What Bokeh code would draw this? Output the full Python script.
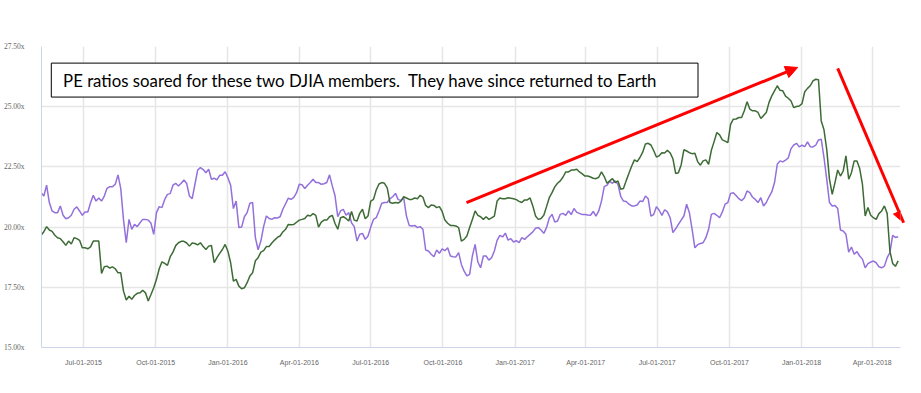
import pandas as pd
from bokeh.plotting import figure
from bokeh.models import (FixedTicker, DatetimeTickFormatter, PrintfTickFormatter,
                          BoxAnnotation, Label, Arrow, NormalHead, Range1d)
from bokeh.embed import file_html
from bokeh.resources import INLINE

# ---- data (samples every 3.5 days) ----
start_date = "2015-05-08"

purple_pe = [
    21.43, 21.29, 21.74, 21.02, 20.67, 20.60, 20.60, 20.88, 20.49, 20.35,
    20.39, 20.49, 20.74, 20.84, 20.67, 20.49, 20.63, 20.63, 21.01, 21.32,
    21.08, 21.21, 21.08, 21.29, 21.61, 21.68, 21.68, 21.78, 22.17, 21.60,
    20.30, 19.35, 20.32, 19.91, 20.11, 20.02, 20.18, 20.32, 20.32, 20.29,
    20.16, 19.70, 20.60, 20.85, 20.81, 21.15, 21.36, 21.39, 21.74, 21.82,
    21.71, 21.82, 21.96, 21.81, 21.29, 21.18, 21.78, 22.37, 22.47, 22.39,
    22.26, 22.40, 21.99, 22.03, 21.96, 22.15, 22.15, 22.30, 22.05, 21.74,
    20.77, 21.08, 19.98, 20.00, 20.43, 20.60, 20.99, 21.02, 19.56, 19.06,
    19.42, 20.02, 20.46, 20.36, 20.32, 20.39, 20.38, 20.43, 20.74, 20.97,
    21.20, 21.15, 21.23, 21.43, 21.78, 21.76, 21.60, 21.74, 21.85, 21.99,
    21.85, 21.85, 21.78, 21.80, 21.85, 22.17, 21.71, 21.30, 20.43, 20.67,
    20.74, 20.49, 20.60, 20.18, 20.02, 19.42, 19.70, 19.74, 19.49, 19.63,
    20.00, 20.32, 20.39, 20.67, 20.99, 21.02, 21.02, 21.18, 21.26, 21.40,
    21.14, 21.11, 21.21, 20.46, 20.07, 20.05, 20.07, 19.98, 20.02, 19.91,
    19.05, 19.01, 18.87, 18.77, 19.05, 18.91, 19.10, 19.02, 19.14, 18.80,
    18.77, 18.76, 18.94, 18.45, 18.17, 17.97, 18.04, 18.80, 19.28, 18.55,
    18.31, 18.80, 18.80, 18.63, 18.73, 19.01, 19.45, 19.66, 19.59, 19.75,
    19.46, 19.52, 19.38, 19.44, 19.35, 19.56, 19.49, 19.60, 19.70, 19.80,
    19.95, 19.98, 19.88, 19.74, 19.98, 20.38, 20.53, 20.21, 20.25, 20.53,
    20.57, 20.49, 20.67, 20.52, 20.77, 20.61, 20.57, 20.52, 20.52, 20.50,
    20.49, 20.65, 20.46, 20.67, 21.08, 21.68, 21.74, 21.90, 21.82, 21.92,
    21.78, 21.28, 21.08, 21.06, 20.95, 20.88, 20.88, 20.92, 21.08, 21.06,
    21.29, 21.18, 20.46, 20.52, 20.85, 20.70, 20.49, 20.72, 20.63, 20.39,
    19.77, 19.93, 20.11, 20.29, 20.46, 20.95, 20.60, 19.91, 19.14, 19.27,
    19.32, 19.35, 19.56, 19.91, 20.53, 20.57, 20.49, 20.39, 20.63, 20.95,
    21.02, 21.40, 21.43, 21.31, 21.18, 21.10, 21.21, 21.50, 21.43, 21.24,
    21.15, 21.02, 21.22, 20.88, 21.02, 21.26, 21.46, 21.85, 22.61, 22.75,
    22.71, 22.78, 22.87, 23.26, 23.41, 23.48, 23.33, 23.40, 23.34, 23.54,
    23.34, 23.33, 23.40, 23.62, 23.65, 22.89, 21.99, 21.02, 20.88, 20.90,
    20.77, 19.88, 19.84, 19.70, 18.96, 19.17, 18.87, 18.98, 18.80, 18.67,
    18.31, 18.48, 18.55, 18.59, 18.52, 18.35, 18.31, 18.38, 18.73, 18.94,
    19.66, 19.57, 19.60]

green_pe = [
    19.66, 19.81, 20.02, 19.88, 19.82, 19.66, 19.56, 19.52, 19.39, 19.24,
    19.42, 19.30, 19.56, 19.52, 19.45, 19.14, 19.14, 19.10, 19.18, 19.42,
    19.42, 19.42, 18.08, 18.35, 18.38, 18.30, 18.35, 18.27, 18.10, 18.10,
    17.34, 16.97, 17.13, 17.00, 17.16, 17.25, 17.27, 17.38, 17.27, 16.93,
    17.20, 17.48, 17.83, 18.27, 18.56, 18.49, 18.41, 18.77, 18.96, 19.23,
    19.35, 19.41, 19.41, 19.34, 19.21, 19.34, 19.32, 19.26, 19.35, 19.19,
    19.07, 19.21, 19.24, 18.52, 18.73, 18.91, 19.07, 19.28, 19.00, 18.52,
    17.76, 17.83, 17.55, 17.44, 17.48, 17.69, 17.97, 18.10, 18.60, 18.73,
    18.96, 19.02, 19.19, 19.19, 19.34, 19.46, 19.57, 19.63, 19.80, 19.91,
    20.11, 20.10, 20.11, 20.20, 20.29, 20.32, 20.36, 20.49, 20.46, 20.56,
    20.49, 20.00, 20.21, 20.29, 20.29, 20.43, 20.49, 20.15, 19.91, 20.39,
    20.43, 20.36, 20.25, 20.65, 20.29, 20.25, 20.57, 20.74, 20.35, 20.46,
    21.08, 21.15, 21.54, 21.79, 21.85, 21.82, 21.63, 21.02, 20.99, 21.02,
    21.00, 21.08, 21.26, 21.21, 21.15, 21.15, 21.21, 21.18, 21.32, 21.24,
    20.90, 20.81, 20.92, 20.90, 20.81, 20.85, 20.65, 20.29, 20.16, 20.07,
    20.07, 20.05, 19.98, 19.42, 19.49, 19.63, 19.98, 20.32, 20.67, 20.49,
    20.43, 20.32, 20.43, 20.32, 20.38, 20.46, 21.08, 21.21, 21.18, 21.18,
    21.22, 21.20, 21.18, 21.14, 21.07, 21.02, 21.13, 21.13, 21.21, 20.88,
    20.46, 20.32, 20.36, 20.49, 20.85, 21.22, 21.43, 21.67, 21.82, 21.92,
    22.08, 22.29, 22.29, 22.37, 22.37, 22.40, 22.29, 22.21, 22.12, 22.12,
    22.08, 22.03, 22.01, 22.07, 22.29, 22.10, 21.82, 21.92, 22.01, 21.85,
    21.92, 21.57, 21.60, 21.93, 22.24, 22.54, 22.79, 22.72, 22.89, 23.11,
    23.45, 23.48, 23.41, 23.18, 22.91, 22.96, 23.09, 23.08, 23.19, 23.08,
    22.84, 22.23, 22.26, 22.58, 23.21, 23.16, 23.09, 23.05, 23.07, 22.72,
    22.57, 22.75, 22.79, 22.61, 23.19, 23.55, 23.93, 23.83, 23.62, 23.57,
    23.51, 24.27, 24.48, 24.49, 24.55, 24.55, 24.83, 25.21, 24.90, 24.83,
    24.83, 24.76, 24.51, 24.63, 24.76, 25.18, 25.45, 25.66, 25.87, 25.68,
    25.66, 25.44, 25.35, 25.24, 24.96, 25.01, 25.03, 25.13, 25.62, 25.76,
    25.87, 26.07, 26.14, 26.12, 24.41, 24.04, 23.23, 21.99, 21.36, 21.85,
    22.37, 22.12, 22.33, 22.96, 21.99, 22.26, 22.75, 22.75, 22.43, 21.78,
    20.46, 20.81, 20.49, 20.39, 20.32, 20.56, 20.67, 20.88, 20.57, 19.00,
    18.49, 18.37, 18.60]

tick_dates = ["2015-07-01", "2015-10-01", "2016-01-01", "2016-04-01",
              "2016-07-01", "2016-10-01", "2017-01-01", "2017-04-01",
              "2017-07-01", "2017-10-01", "2018-01-01", "2018-04-01"]
y_ticks = [15.0, 17.5, 20.0, 22.5, 25.0, 27.5]

note_text = "PE ratios soared for these two DJIA members.\u00a0 They have since returned to Earth"

# ---- build ----
dates = pd.date_range(start_date, periods=len(purple_pe), freq="84h")


def ms(d):
    return pd.Timestamp(d).value / 1e6


p = figure(width=913, height=377, x_axis_type="datetime",
           output_backend="svg", toolbar_location=None,
           x_range=Range1d(ms("2015-05-08 12:00"), ms("2018-05-07")),
           y_range=Range1d(15, 27.5),
           min_border_left=28, min_border_right=13,
           min_border_top=46, min_border_bottom=30)
p.outline_line_color = None
p.background_fill_color = "white"

# axes
p.xaxis.ticker = FixedTicker(ticks=[ms(d) for d in tick_dates])
fmt = "%b-%d-%Y"
p.xaxis.formatter = DatetimeTickFormatter(days=fmt, months=fmt, years=fmt,
                                          hours=fmt, minutes=fmt, seconds=fmt)
p.xaxis.axis_line_color = "#ccd6eb"
p.xaxis.major_tick_line_color = None
p.xaxis.minor_tick_line_color = None
p.xaxis.major_label_text_color = "#666666"
p.xaxis.major_label_text_font = "Liberation Sans"
p.xaxis.major_label_text_font_size = "7px"
p.xaxis.major_label_standoff = 5

p.yaxis.ticker = FixedTicker(ticks=y_ticks)
p.yaxis.formatter = PrintfTickFormatter(format="%.2fx")
p.yaxis.axis_line_color = "#ccd6eb"
p.yaxis.major_tick_line_color = None
p.yaxis.minor_tick_line_color = None
p.yaxis.major_label_text_color = "#666666"
p.yaxis.major_label_text_font = "Liberation Sans Narrow"
p.yaxis.major_label_text_font_size = "7.5px"
p.yaxis.major_label_standoff = 11

p.xgrid.grid_line_color = "#e6e6e6"
p.xgrid.grid_line_width = 1.5
p.ygrid.grid_line_color = "#e6e6e6"
p.ygrid.grid_line_width = 1.5

# series
p.line(dates, purple_pe, line_color="#9370DB", line_width=1.5)
p.line(dates, green_pe, line_color="#3d6b35", line_width=1.5)

# annotation box
p.add_layout(BoxAnnotation(left=ms("2015-05-21"), right=ms("2017-08-22"),
                           bottom=25.40, top=26.81,
                           fill_color="white", fill_alpha=1.0,
                           line_color="black", line_width=1, line_alpha=1.0))
p.add_layout(Label(x=ms("2015-06-05"), y=26.10, text=note_text,
                   text_font="Lato", text_font_size="16.8px",
                   text_baseline="middle", text_color="black"))

# arrows
p.add_layout(Arrow(end=NormalHead(size=12, fill_color="#ff0000", line_color="#ff0000"),
                   x_start=ms("2016-10-31"), y_start=21.02,
                   x_end=ms("2017-12-27"), y_end=26.63,
                   line_color="#ff0000", line_width=3))
p.add_layout(Arrow(end=NormalHead(size=12, fill_color="#ff0000", line_color="#ff0000"),
                   x_start=ms("2018-02-16"), y_start=26.59,
                   x_end=ms("2018-05-11"), y_end=20.18,
                   line_color="#ff0000", line_width=3))

open("out.html", "w").write(file_html(p, INLINE))
